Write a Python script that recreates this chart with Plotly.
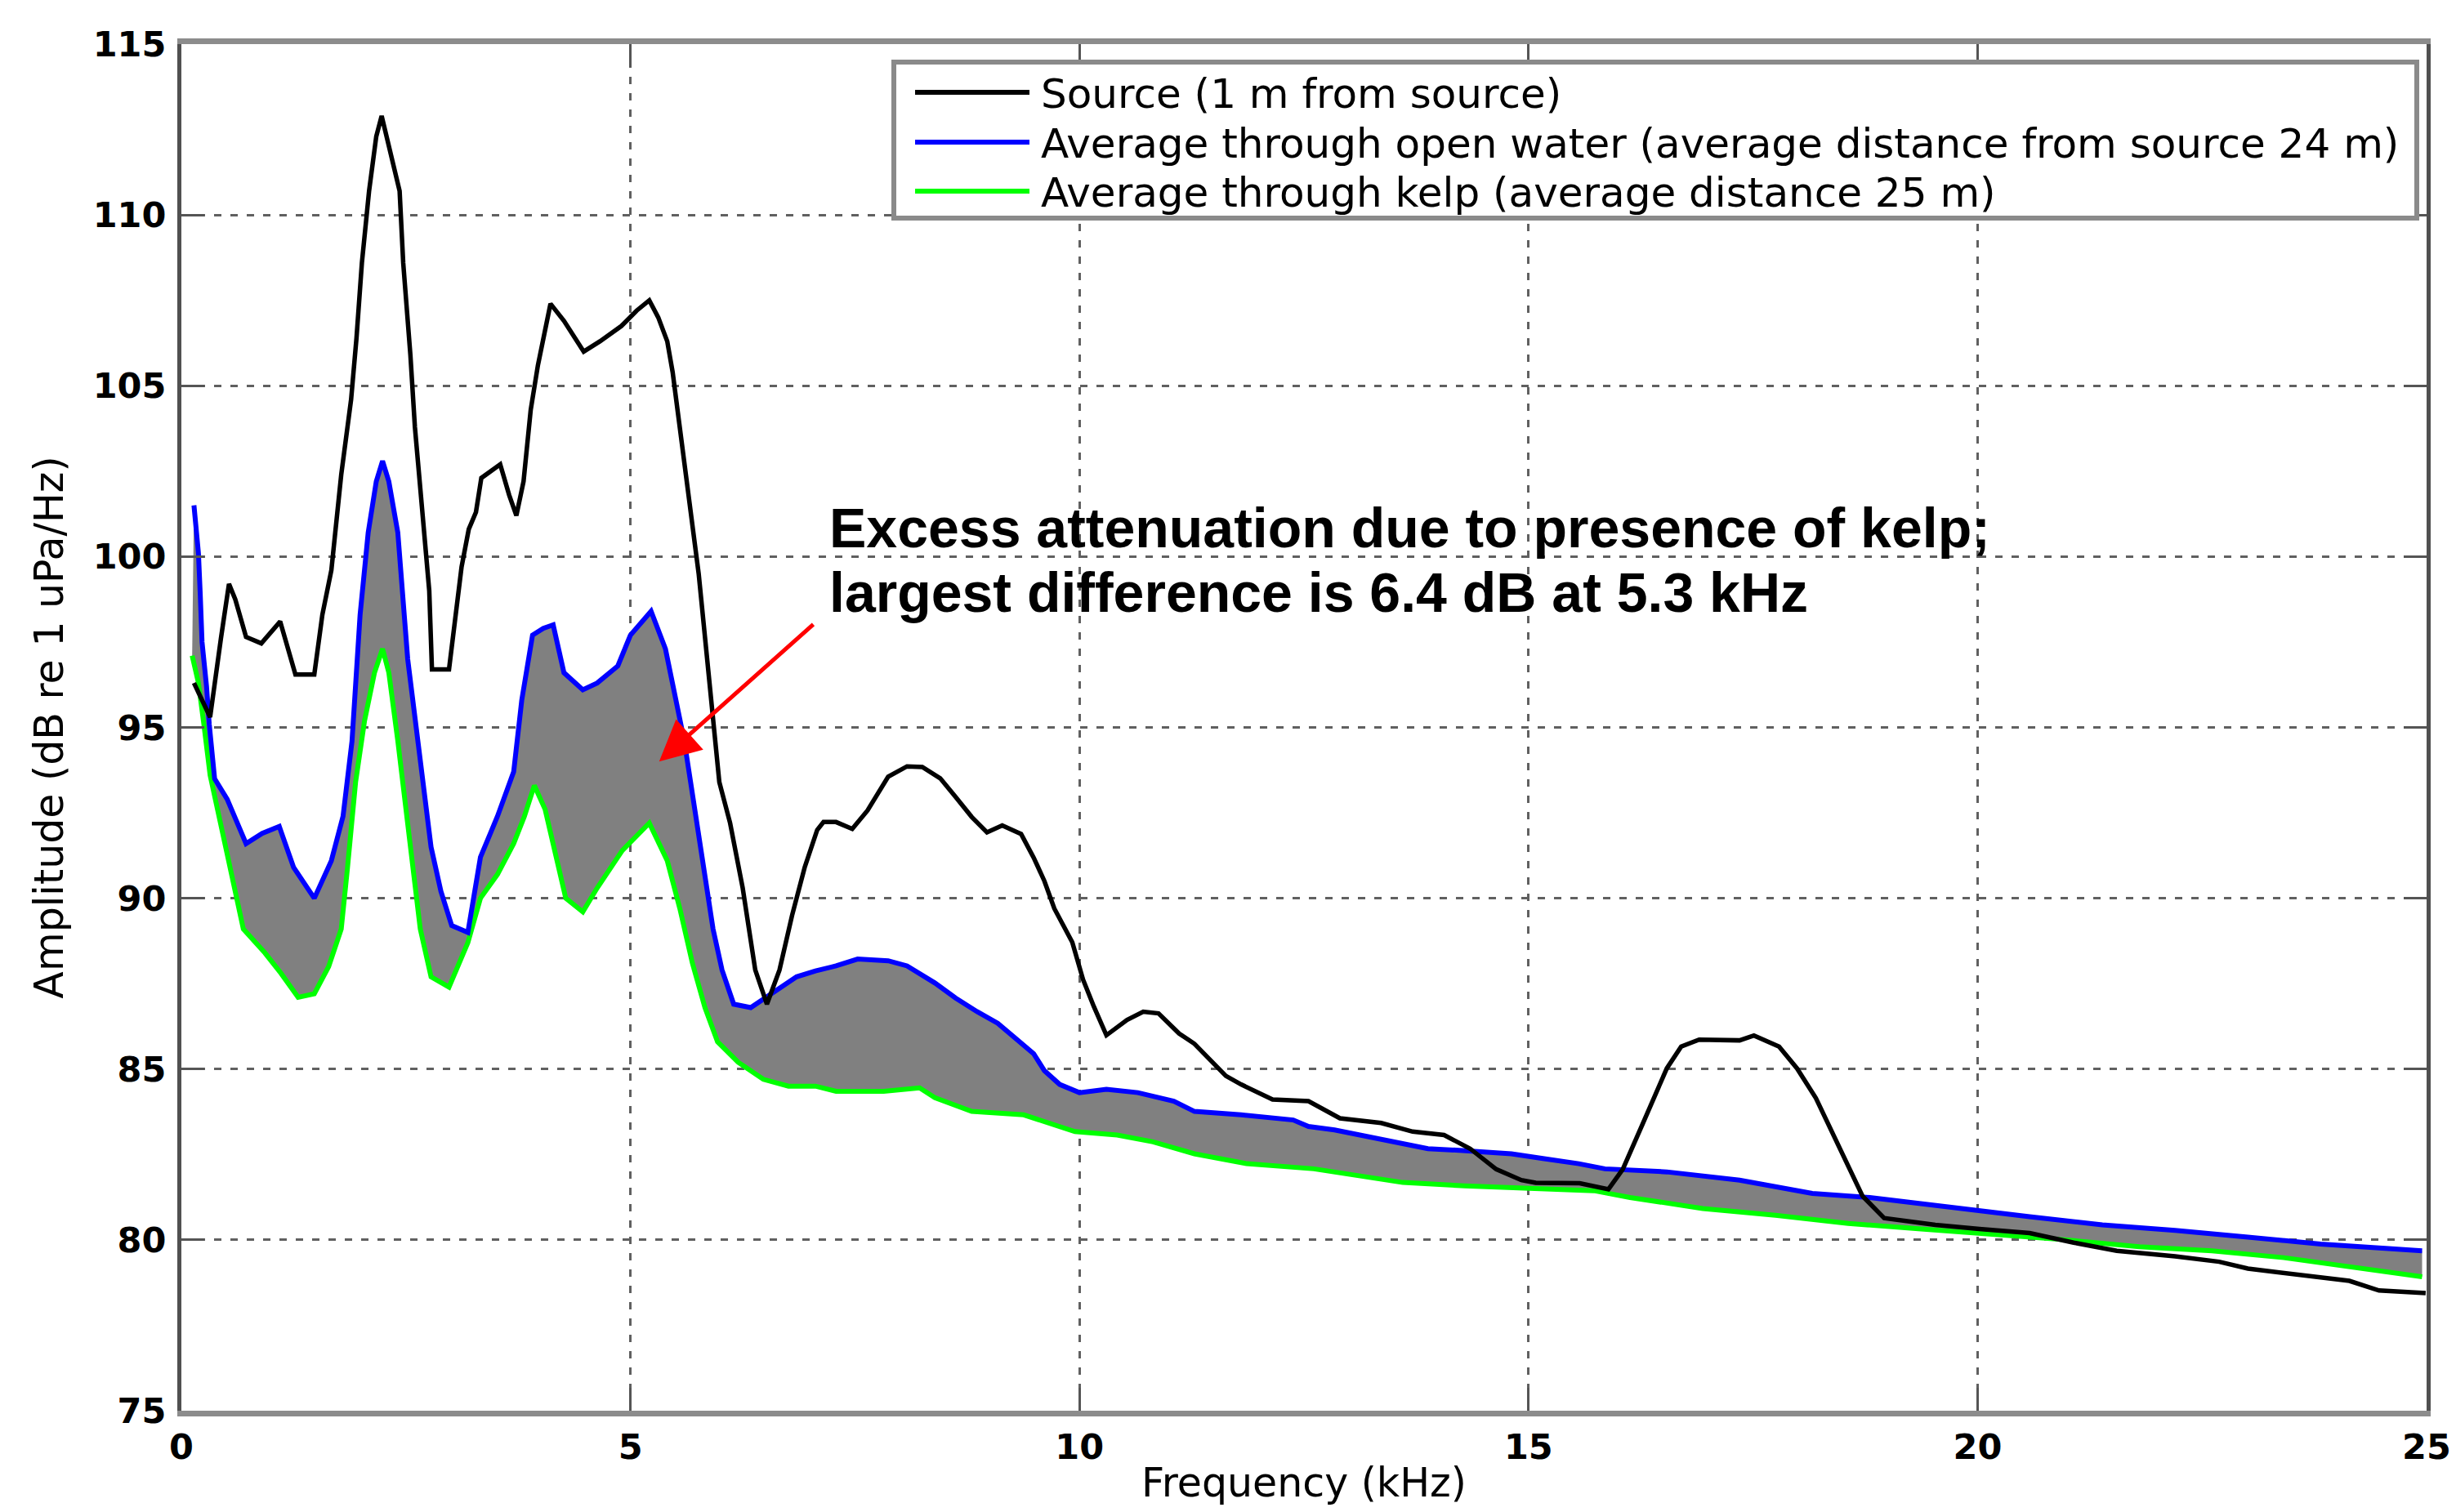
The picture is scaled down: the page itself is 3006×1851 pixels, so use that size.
import plotly.graph_objects as go

# ---------------- data ----------------
freq_source = [0.14, 0.23, 0.32, 0.44, 0.53, 0.60, 0.72, 0.89, 1.10, 1.27, 1.48, 1.57, 1.67, 1.78,
               1.89, 1.95, 2.01, 2.09, 2.17, 2.23, 2.35, 2.43, 2.47, 2.51, 2.55, 2.60, 2.64, 2.68,
               2.76, 2.79, 2.98, 3.04, 3.12, 3.20, 3.28, 3.34, 3.55, 3.65, 3.73, 3.81, 3.89, 3.97,
               4.03, 4.11, 4.26, 4.48, 4.66, 4.90, 5.07, 5.21, 5.31, 5.41, 5.47, 5.55, 5.61, 5.67,
               5.76, 5.83, 5.90, 5.99, 6.11, 6.25, 6.39, 6.52, 6.66, 6.80, 6.94, 7.08, 7.15, 7.29,
               7.47, 7.64, 7.87, 8.08, 8.25, 8.45, 8.62, 8.80, 8.97, 9.14, 9.35, 9.49, 9.61, 9.72,
               9.92, 10.04, 10.16, 10.30, 10.53, 10.71, 10.88, 11.11, 11.28, 11.63, 11.80, 12.15,
               12.55, 12.90, 13.36, 13.71, 14.06, 14.35, 14.64, 14.92, 15.08, 15.57, 15.89, 16.05,
               16.29, 16.54, 16.70, 16.90, 17.35, 17.51, 17.79, 17.99, 18.20, 18.48, 18.72, 18.96,
               19.53, 20.02, 20.58, 21.07, 21.55, 22.20, 22.69, 23.01, 23.66, 24.14, 24.47, 24.99]
amp_source = [96.3, 95.8, 95.3, 97.6, 99.2, 98.75, 97.65, 97.46, 98.1, 96.55, 96.55, 98.3, 99.6, 102.4,
              104.6, 106.4, 108.6, 110.7, 112.3, 112.9, 111.6, 110.7, 108.6, 107.3, 105.9, 103.8, 102.7, 101.4,
              99.0, 96.7, 96.7, 97.9, 99.7, 100.8, 101.3, 102.3, 102.7, 101.8, 101.2, 102.2, 104.3, 105.6,
              106.4, 107.4, 106.9, 106.0, 106.3, 106.75, 107.2, 107.5, 107.0, 106.3, 105.4, 103.8, 102.7, 101.5,
              99.5, 97.65, 95.8, 93.4, 92.2, 90.3, 87.9, 86.9, 87.9, 89.5, 90.9, 92.0, 92.23, 92.23,
              92.03, 92.57, 93.56, 93.86, 93.84, 93.51, 92.97, 92.38, 91.93, 92.13, 91.88, 91.19, 90.50, 89.70,
              88.71, 87.62, 86.83, 85.99, 86.44, 86.68, 86.63, 86.04, 85.74, 84.80, 84.55, 84.11,
              84.06, 83.56, 83.42, 83.17, 83.07, 82.67, 82.07, 81.75, 81.67, 81.66, 81.48, 82.07,
              83.51, 85.02, 85.66, 85.86, 85.84, 85.98, 85.66, 85.02, 84.15, 82.63, 81.28, 80.64,
              80.44, 80.32, 80.20, 79.92, 79.68, 79.52, 79.36, 79.16, 78.96, 78.80, 78.52, 78.44]

freq_open = [0.14, 0.19, 0.21, 0.23, 0.28, 0.31, 0.37, 0.51, 0.72, 0.90, 1.09, 1.25, 1.48, 1.67,
             1.80, 1.90, 1.99, 2.08, 2.17, 2.24, 2.31, 2.41, 2.52, 2.66, 2.78, 2.89, 3.01, 3.19,
             3.33, 3.52, 3.70, 3.79, 3.91, 4.03, 4.14, 4.26, 4.47, 4.63, 4.86, 5.00, 5.23, 5.39,
             5.51, 5.60, 5.67, 5.78, 5.92, 6.02, 6.15, 6.34, 6.57, 6.85, 7.06, 7.29, 7.53, 7.87,
             8.08, 8.39, 8.62, 8.86, 9.09, 9.35, 9.49, 9.61, 9.78, 10.00, 10.30, 10.65, 11.05,
             11.28, 11.80, 12.38, 12.55, 12.84, 13.42, 13.88, 14.23, 14.81, 15.16, 15.56, 15.85,
             16.54, 17.35, 18.16, 18.80, 19.77, 20.58, 21.39, 22.20, 23.01, 23.82, 24.95]
amp_open = [101.5, 100.1, 98.9, 97.5, 96.2, 95.1, 93.5, 92.9, 91.6, 91.9, 92.1, 90.9, 90.0, 91.1,
            92.4, 94.6, 98.3, 100.7, 102.2, 102.8, 102.2, 100.7, 97.0, 94.0, 91.5, 90.2, 89.2, 89.0,
            91.2, 92.4, 93.7, 95.8, 97.7, 97.9, 98.0, 96.6, 96.1, 96.3, 96.8, 97.7, 98.4, 97.3,
            95.8, 94.6, 93.4, 91.6, 89.1, 87.9, 86.9, 86.8, 87.2, 87.7, 87.87, 88.02, 88.22, 88.17,
            88.02, 87.52, 87.08, 86.68, 86.34, 85.79, 85.45, 84.95, 84.55, 84.31, 84.41, 84.31, 84.06,
            83.76, 83.66, 83.51, 83.32, 83.22, 82.9, 82.67, 82.62, 82.52, 82.38, 82.23, 82.08,
            81.99, 81.75, 81.36, 81.24, 80.92, 80.68, 80.44, 80.28, 80.08, 79.88, 79.68]

freq_kelp = [0.12, 0.19, 0.25, 0.32, 0.46, 0.69, 0.93, 1.11, 1.30, 1.48, 1.64, 1.78, 1.85, 1.94,
             2.04, 2.15, 2.24, 2.31, 2.41, 2.52, 2.66, 2.78, 2.98, 3.19, 3.33, 3.52, 3.70, 3.82,
             3.93, 4.05, 4.16, 4.28, 4.47, 4.63, 4.91, 5.21, 5.41, 5.55, 5.69, 5.83, 5.97, 6.20,
             6.48, 6.76, 7.06, 7.29, 7.82, 8.22, 8.39, 8.80, 9.38, 9.66, 9.95, 10.42, 10.82, 11.28,
             11.86, 12.61, 13.13, 13.60, 14.29, 15.04, 15.73, 16.13, 16.94, 17.75, 18.56, 19.37,
             20.18, 20.99, 21.80, 22.61, 23.41, 24.22, 24.95]
amp_kelp = [97.1, 96.3, 95.1, 93.6, 91.9, 89.1, 88.4, 87.8, 87.1, 87.2, 88.0, 89.1, 90.9, 93.4,
            95.2, 96.6, 97.3, 96.6, 94.6, 92.2, 89.1, 87.7, 87.4, 88.7, 90.0, 90.7, 91.6, 92.4,
            93.3, 92.6, 91.4, 90.0, 89.6, 90.3, 91.4, 92.2, 91.1, 89.7, 88.1, 86.8, 85.8, 85.2,
            84.7, 84.5, 84.50, 84.35, 84.35, 84.45, 84.16, 83.76, 83.66, 83.42, 83.17, 83.07, 82.87, 82.52,
            82.23, 82.08, 81.88, 81.68, 81.58, 81.50, 81.44, 81.24, 80.92, 80.72, 80.48, 80.32,
            80.16, 80.00, 79.80, 79.68, 79.48, 79.20, 78.92]

x_ticks = [0, 5, 10, 15, 20, 25]
y_ticks = [75, 80, 85, 90, 95, 100, 105, 110, 115]

legend_names = ["Source (1 m from source)",
                "Average through open water (average distance from source 24 m)",
                "Average through kelp (average distance 25 m)"]
legend_colors = ["#000000", "#0000ff", "#00ff00"]

note_lines = ["Excess attenuation due to presence of kelp;",
              "largest difference is 6.4 dB at 5.3 kHz"]

# ---------------- figure ----------------
W, H = 3006, 1851
ML, MR, MT, MB = 222, 36, 54, 124
PW, PH = W - ML - MR, H - MT - MB


def px_x(px):
    return (px - ML) / PW


def px_y(py):
    return (H - MB - py) / PH


fig = go.Figure()
fig.add_trace(go.Scatter(x=freq_kelp, y=amp_kelp, mode="lines",
                         line=dict(color=legend_colors[2], width=6), showlegend=False))
fig.add_trace(go.Scatter(x=freq_open, y=amp_open, mode="lines", fill="tonexty",
                         fillcolor="#808080",
                         line=dict(color=legend_colors[1], width=6), showlegend=False))
fig.add_trace(go.Scatter(x=freq_source, y=amp_source, mode="lines",
                         line=dict(color=legend_colors[0], width=5.5), showlegend=False))

tick_font = dict(family="DejaVu Sans", size=43, color="black", weight=700)
title_font = dict(family="DejaVu Sans", size=49, color="black")
common = dict(ticks="inside", ticklen=28, tickwidth=3, tickcolor="#555555",
              showline=True, mirror="allticks", showgrid=True,
              gridcolor="#606060", gridwidth=3, griddash="9px,11px",
              zeroline=False, tickfont=tick_font, ticklabeloverflow="allow",
              automargin=False)

fig.update_xaxes(range=[0, 25], tickvals=x_ticks, linecolor="#8c8c8c", linewidth=7,
                 ticklabelstandoff=0,
                 title=dict(text="Frequency (kHz)", font=title_font, standoff=6), **common)
fig.update_yaxes(range=[75, 115], tickvals=y_ticks, linecolor="#505050", linewidth=5,
                 ticklabelstandoff=5,
                 title=dict(text="Amplitude (dB re 1 uPa/Hz)", font=title_font, standoff=22), **common)

# legend box (drawn manually for long MATLAB-style sample lines)
shapes = [dict(type="rect", xref="paper", yref="paper",
               x0=px_x(1094), x1=px_x(2958), y0=px_y(267), y1=px_y(76),
               fillcolor="white", line=dict(color="#8a8a8a", width=6), layer="above")]
annotations = []
row_y = [113, 174, 234]
for name, col, ry in zip(legend_names, legend_colors, row_y):
    shapes.append(dict(type="line", xref="paper", yref="paper",
                       x0=px_x(1120), x1=px_x(1260), y0=px_y(ry), y1=px_y(ry),
                       line=dict(color=col, width=6), layer="above"))
    annotations.append(dict(xref="paper", yref="paper", x=px_x(1272), y=px_y(ry + 2),
                            xanchor="left", yanchor="middle", showarrow=False, text=name,
                            font=dict(family="DejaVu Sans", size=50, color="black")))

# callout text
for txt, yv in zip(note_lines, [100.84, 98.96]):
    annotations.append(dict(x=7.2, y=yv, xref="x", yref="y", xanchor="left", yanchor="middle",
                            showarrow=False, text=txt,
                            font=dict(family="Liberation Sans", size=68, color="black", weight=700)))
# red arrow
annotations.append(dict(x=5.32, y=94.0, xref="x", yref="y", ax=7.05, ay=98.05,
                        axref="x", ayref="y", text="", showarrow=True,
                        arrowcolor="#ff0000", arrowwidth=5, arrowhead=2, arrowsize=2))

fig.update_layout(width=W, height=H, margin=dict(l=ML, r=MR, t=MT, b=MB, autoexpand=False),
                  paper_bgcolor="white", plot_bgcolor="white",
                  shapes=shapes, annotations=annotations, showlegend=False)

fig.write_html("out.html", config={"displayModeBar": False},
               post_script="document.body.style.margin='0';")
